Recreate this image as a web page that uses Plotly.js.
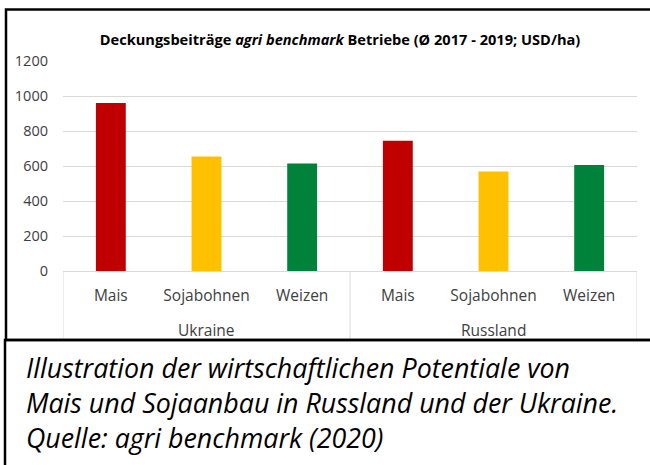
<!DOCTYPE html>
<html>
<head>
<meta charset="utf-8">
<script src="https://cdn.plot.ly/plotly-3.0.1.min.js"></script>
<style>html,body{margin:0;padding:0;background:#fff;}#chart{width:650px;height:465px;}</style>
</head>
<body>
<div id="chart"></div>
<script>
const countries = ['Ukraine', 'Russland'];
const crops = ['Mais', 'Sojabohnen', 'Weizen'];
const valuesUkraine = [960, 655, 615];
const valuesRussland = [745, 568, 606];
const cropColors = ['#C00000', '#FFC000', '#00823B'];
const yTicks = [0, 200, 400, 600, 800, 1000, 1200];
const titleText = 'Deckungsbeiträge <i>agri benchmark</i> Betriebe (Ø 2017 - 2019; USD/ha)';
const captionLines = [
  'Illustration der wirtschaftlichen Potentiale von',
  'Mais und Sojaanbau in Russland und der Ukraine.',
  'Quelle: agri benchmark (2020)'
];

const W = 650, H = 465;
const L = 63, R = 637, T = 61, B = 271;
const px2x = p => (p - L) / (R - L);
const px2y = p => (B - p) / (B - T);
const FONT = 'Open Sans, sans-serif';

const xPos = [], xLabels = [], yVals = [], colors = [];
const allVals = [valuesUkraine, valuesRussland];
const groupCenters = [];
countries.forEach((c, i) => {
  const start = xPos.length;
  crops.forEach((k, j) => {
    xPos.push(xPos.length); xLabels.push(k); yVals.push(allVals[i][j]); colors.push(cropColors[j]);
  });
  groupCenters.push((start + xPos.length - 1) / 2);
});

const trace = {
  type: 'bar',
  x: xPos,
  y: yVals,
  marker: {color: colors, line: {width: 0}},
  hoverinfo: 'skip'
};

const grey = '#D9D9D9';
const boundaries = [-0.5];
countries.forEach((c, i) => boundaries.push(-0.5 + (i + 1) * crops.length));
const shapes = boundaries.map(b => ({
  type: 'line', xref: 'x', yref: 'paper', x0: b, x1: b, y0: 0, y1: px2y(340),
  line: {color: grey, width: 1}
}));
shapes.push(
  {type: 'rect', xref: 'paper', yref: 'paper', x0: px2x(6), x1: px2x(660), y0: px2y(9.5), y1: px2y(340), line: {color: '#000', width: 2.5}},
  {type: 'rect', xref: 'paper', yref: 'paper', x0: px2x(5), x1: px2x(660), y0: px2y(340), y1: px2y(480), line: {color: '#000', width: 2.5}}
);

const annotations = captionLines.map((t, i) => ({
  xref: 'paper', yref: 'paper', x: px2x(24), y: px2y(367 + i * 35.5),
  xanchor: 'left', yanchor: 'middle', showarrow: false,
  text: '<i>' + t + '</i>',
  font: {family: FONT, size: 26.8, color: '#000'}
}));
countries.forEach((c, i) => annotations.push({
  xref: 'x', yref: 'paper', x: groupCenters[i], y: px2y(329.5),
  xanchor: 'center', yanchor: 'middle', showarrow: false,
  text: c, font: {family: FONT, size: 15.5, color: '#404040'}
}));

const layout = {
  width: W, height: H,
  margin: {l: L, r: W - R, t: T, b: H - B, pad: 0},
  paper_bgcolor: '#fff', plot_bgcolor: '#fff',
  showlegend: false,
  bargap: 0.6875,
  title: {
    text: '<b>' + titleText + '</b>',
    font: {family: FONT, size: 14.6, color: '#000'},
    xref: 'paper', x: px2x(340), xanchor: 'center',
    yref: 'container', y: 1 - 40 / H, yanchor: 'middle'
  },
  xaxis: {
    range: [-0.5, xPos.length - 0.5],
    tickvals: xPos, ticktext: xLabels,
    showgrid: false, zeroline: false,
    showline: true, linecolor: grey, linewidth: 1,
    ticks: '',
    tickfont: {family: FONT, size: 15.5, color: '#404040'},
    ticklabelstandoff: 10,
    fixedrange: true
  },
  yaxis: {
    range: [0, 1200],
    tickvals: yTicks,
    ticktext: yTicks.map(String),
    showgrid: true, gridcolor: grey, gridwidth: 1,
    zeroline: false, showline: false, ticks: '',
    tickfont: {family: FONT, size: 14.5, color: '#404040'},
    ticklabelstandoff: 14,
    fixedrange: true
  },
  shapes: shapes,
  annotations: annotations
};

Plotly.newPlot('chart', [trace], layout, {staticPlot: true, displayModeBar: false});
</script>
</body>
</html>
